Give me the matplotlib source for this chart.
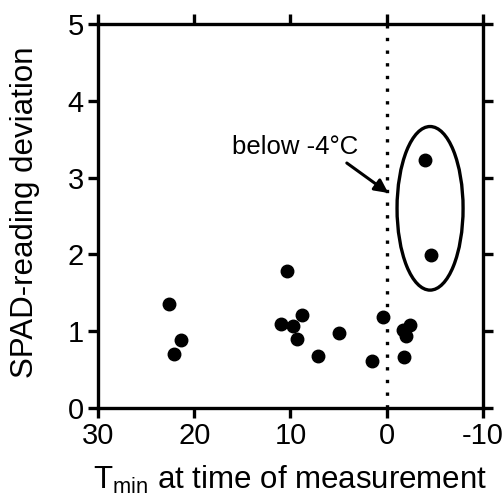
import matplotlib.pyplot as plt
from matplotlib.patches import Ellipse

plt.rcParams["font.family"] = ["Liberation Sans", "DejaVu Sans"]
plt.rcParams["axes.unicode_minus"] = False

# T_min (deg C) and SPAD-reading deviation
tmin = [22.6, 22.1, 21.4, 10.4, 11.0, 9.7, 8.8, 9.3, 7.1, 5.0, 1.5, 0.4,
        -1.7, -2.4, -2.0, -1.75, -4.6, -4.0]
spad = [1.35, 0.70, 0.88, 1.79, 1.09, 1.07, 1.21, 0.90, 0.68, 0.98, 0.61, 1.18,
        1.02, 1.08, 0.94, 0.67, 1.99, 3.23]
xticks = [30, 20, 10, 0, -10]
yticks = [0, 1, 2, 3, 4, 5]

fig = plt.figure(figsize=(5.04, 5.01), dpi=100)
ax = fig.add_axes([98/504, 1 - 408/501, (483-98)/504, (408-24)/501])

ax.plot(tmin, spad, "o", color="black", ms=9, clip_on=False, zorder=3)
ax.axvline(0, color="black", lw=2.4, ls=(0, (1, 2.8)))

ax.add_patch(Ellipse((-4.5, 2.6), 6.86, 2.13, fill=False, ec="black", lw=2.4))
ax.text(9.5, 3.40, "below -4°C", ha="center", va="center", fontsize=18.5)
ax.annotate("", xy=(-0.16, 2.80), xytext=(4.15, 3.19),
            arrowprops=dict(arrowstyle="-|>", color="black", lw=2.2,
                            mutation_scale=20, shrinkA=0, shrinkB=0))

ax.set_xlim(30, -10)
ax.set_ylim(0, 5)
ax.set_xticks(xticks)
ax.set_yticks(yticks)
ax.tick_params(axis="both", which="both", direction="out", length=7.2, width=2.4,
               labelsize=21, top=True, right=True, pad=3)
for s in ax.spines.values():
    s.set_linewidth(2.4)

ax.set_ylabel("SPAD-reading deviation", fontsize=22.5)
ax.set_xlabel(r"T$_{\mathregular{min}}$ at time of measurement", fontsize=22.5)
ax.yaxis.set_label_coords(-0.15, 0.51)
ax.xaxis.set_label_coords(0.5, -0.145)

fig.savefig("out.png", dpi=100)
